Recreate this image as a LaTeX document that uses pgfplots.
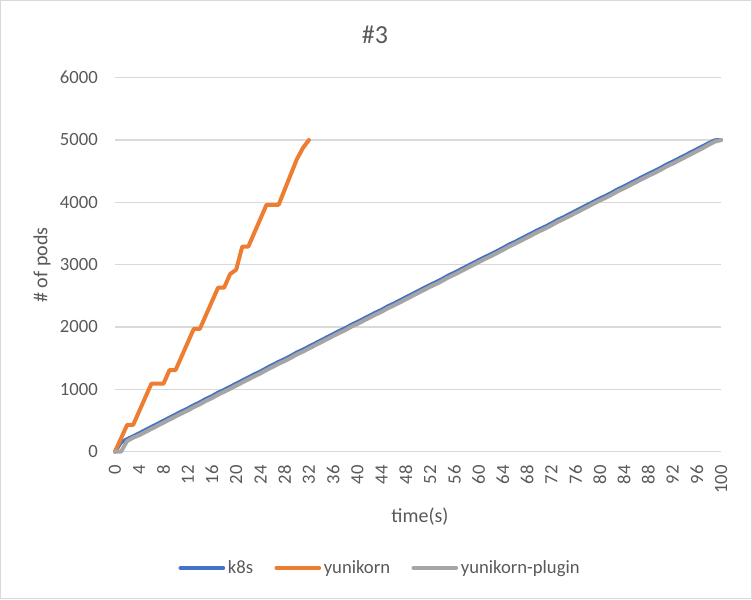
\documentclass[border=0pt]{standalone}
\usepackage{pgfplots}
\usepackage{pgfplotstable}
\pgfplotsset{compat=1.18}
\usepackage{fontspec}
\setmainfont{Carlito}
\definecolor{txt}{RGB}{89,89,89}
\definecolor{gridc}{RGB}{217,217,217}
\definecolor{cblue}{RGB}{68,114,196}
\definecolor{corange}{RGB}{237,125,49}
\definecolor{cgray}{RGB}{165,165,165}
\pgfplotstableread{
x k8s plugin
0 0 0
1 150 0
2 200 170
3 245 225
4 295 265
5 345 315
6 395 365
7 445 415
8 495 465
9 545 515
10 595 565
11 645 615
12 690 660
13 745 715
14 790 760
15 845 815
16 890 860
17 945 915
18 990 960
19 1040 1010
20 1090 1060
21 1140 1110
22 1190 1160
23 1240 1210
24 1285 1255
25 1340 1310
26 1390 1360
27 1440 1410
28 1485 1455
29 1535 1505
30 1590 1560
31 1635 1605
32 1685 1655
33 1735 1705
34 1785 1755
35 1835 1805
36 1885 1855
37 1935 1905
38 1980 1950
39 2035 2005
40 2080 2050
41 2130 2100
42 2180 2150
43 2230 2200
44 2275 2245
45 2330 2300
46 2375 2345
47 2425 2395
48 2475 2445
49 2525 2495
50 2575 2545
51 2625 2595
52 2675 2645
53 2720 2690
54 2770 2740
55 2825 2795
56 2870 2840
57 2920 2890
58 2970 2940
59 3020 2990
60 3070 3040
61 3120 3090
62 3165 3135
63 3215 3185
64 3265 3235
65 3320 3290
66 3365 3335
67 3415 3385
68 3465 3435
69 3515 3485
70 3565 3535
71 3610 3580
72 3660 3630
73 3715 3685
74 3760 3730
75 3810 3780
76 3860 3830
77 3910 3880
78 3960 3930
79 4010 3980
80 4060 4030
81 4105 4075
82 4155 4125
83 4210 4180
84 4255 4225
85 4305 4275
86 4355 4325
87 4405 4375
88 4455 4425
89 4500 4470
90 4550 4520
91 4605 4575
92 4650 4620
93 4700 4670
94 4750 4720
95 4800 4770
96 4850 4820
97 4900 4870
98 4950 4925
99 4995 4975
100 5000 5000
}\linedata
\begin{document}
\begin{tikzpicture}
\useasboundingbox (0,0) rectangle (564pt,449.25pt);
\draw[gridc, line width=0.75pt] (0.375pt,0.375pt) rectangle (563.625pt,448.875pt);
\node[txt, font=\fontsize{19.5}{22}\selectfont, anchor=base] at (281.25pt,416.8pt) {\#3};
\node[txt, font=\fontsize{15}{18}\selectfont, anchor=base] at (315pt,57pt) {time(s)};
\node[txt, font=\fontsize{15}{18}\selectfont, rotate=90, anchor=center] at (31.5pt,250.5pt) {\# of pods};
\begin{axis}[
  at={(86.25pt,110.5pt)}, anchor=south west,
  scale only axis, width=454.5pt, height=280.5pt,
  xmin=0, xmax=100, ymin=0, ymax=6000,
  xtick={0,4,...,100}, ytick={0,1000,...,6000},
  axis x line*=bottom, axis y line*=left,
  x axis line style={gridc, line width=1pt, -},
  y axis line style={draw=none, -},
  ymajorgrids, grid style={gridc, line width=1pt},
  major tick length=0pt,
  tick label style={txt, font=\fontsize{14}{16}\selectfont, inner sep=0pt},
  /pgf/number format/assume math mode=true,
  /pgf/number format/1000 sep={},
  xticklabel style={rotate=90, anchor=east},
  xticklabel shift=10pt,
  yticklabel style={anchor=east},
  yticklabel shift=12.75pt,
  legend columns=3,
  legend style={at={(0.438,-0.311)}, anchor=center, draw=none, fill=none,
    font=\fontsize{14}{16}\selectfont, text=txt,
    /tikz/column 2/.style={column sep=14pt},
    /tikz/column 4/.style={column sep=14pt}},
  legend image code/.code={\draw[#1, line cap=round] (0pt,0pt) -- (32pt,0pt);},
  every axis plot/.append style={line width=3pt, line join=round, line cap=round, mark=none},
  clip=false,
]
\addplot[cblue] table[x=x, y=k8s] {\linedata};
\addlegendentry{k8s}
\addplot[corange] coordinates {
(0,0) (2,430) (3,430) (6,1090) (8,1090) (9,1310) (10,1310) (13,1970) (14,1970)
(17,2630) (18,2630) (19,2850) (20,2920) (21,3290) (22,3290) (25,3960) (27,3960)
(30,4690) (31,4870) (32,5000)};
\addlegendentry{yunikorn}
\addplot[cgray] table[x=x, y=plugin] {\linedata};
\addlegendentry{yunikorn-plugin}
\end{axis}
\end{tikzpicture}
\end{document}
